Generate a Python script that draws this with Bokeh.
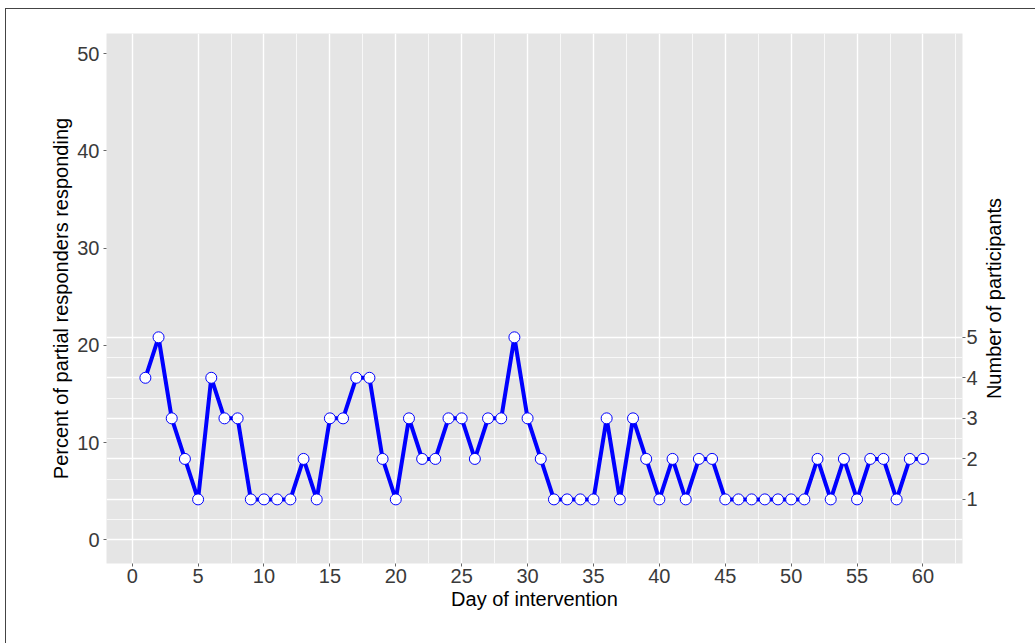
from bokeh.plotting import figure
from bokeh.layouts import row
from bokeh.models import Range1d, LinearAxis, FixedTicker
from bokeh.embed import file_html
from bokeh.resources import INLINE

# ---- data ----
days = list(range(1, 61))
percent = [16.67, 20.83, 12.5, 8.33, 4.17, 16.67, 12.5, 12.5, 4.17, 4.17,
           4.17, 4.17, 8.33, 4.17, 12.5, 12.5, 16.67, 16.67, 8.33, 4.17,
           12.5, 8.33, 8.33, 12.5, 12.5, 8.33, 12.5, 12.5, 20.83, 12.5,
           8.33, 4.17, 4.17, 4.17, 4.17, 12.5, 4.17, 12.5, 8.33, 4.17,
           8.33, 4.17, 8.33, 8.33, 4.17, 4.17, 4.17, 4.17, 4.17, 4.17,
           4.17, 8.33, 4.17, 8.33, 4.17, 8.33, 8.33, 4.17, 8.33, 8.33]
x_ticks = [0, 5, 10, 15, 20, 25, 30, 35, 40, 45, 50, 55, 60]
y_ticks = [0, 10, 20, 30, 40, 50]
participant_ticks = [1, 2, 3, 4, 5]
total_participants = 24  # right axis: count -> percent of 24

FONT = "Liberation Sans"
FS = "20px"
X0, X1 = -1.95, 63.0
Y0, Y1 = -2.42, 52.06

p = figure(width=974, height=635, output_backend="svg", toolbar_location=None,
           x_range=Range1d(X0, X1), y_range=Range1d(Y0, Y1),
           min_border_left=100, min_border_right=17, min_border_top=24, min_border_bottom=81)
p.margin = (8, 0, 0, 5)
p.styles = {"border-left": "1px solid #444444", "border-top": "1px solid #444444"}
p.background_fill_color = "#E5E5E5"
p.border_fill_color = "white"
p.outline_line_color = None

# grid
vgrid_major = x_ticks
vgrid_minor = [7.5, 12.5, 17.5, 22.5, 27.5, 32.5, 37.5, 42.5, 47.5, 52.5, 57.5, 62.5]
hgrid_major = [k * 100 / total_participants for k in [0, 1, 2, 3, 4, 5]]
hgrid_minor = [k * 100 / total_participants for k in [0.5, 1.5, 2.5, 3.5, 4.5]]
p.xgrid.ticker = FixedTicker(ticks=vgrid_major, minor_ticks=vgrid_minor)
p.ygrid.ticker = FixedTicker(ticks=hgrid_major, minor_ticks=hgrid_minor)
for g in (p.xgrid, p.ygrid):
    g.grid_line_color = "white"
    g.grid_line_width = 1.4
    g.minor_grid_line_color = "white"
    g.minor_grid_line_width = 0.9
    g.minor_grid_line_alpha = 0.8

# axes
p.xaxis.ticker = FixedTicker(ticks=x_ticks)
p.yaxis.ticker = FixedTicker(ticks=y_ticks)
p.xaxis.axis_label = "Day of intervention"
p.yaxis.axis_label = "Percent of partial responders responding"

p.extra_y_ranges = {"n": Range1d(Y0 * total_participants / 100, Y1 * total_participants / 100)}
raxis = LinearAxis(y_range_name="n", ticker=FixedTicker(ticks=participant_ticks))
p.add_layout(raxis, "right")

for ax in (p.xaxis[0], p.yaxis[0], raxis):
    ax.axis_line_color = None
    ax.minor_tick_line_color = None
    ax.major_tick_line_color = "#666666"
    ax.major_tick_in = 0
    ax.major_tick_out = 3
    ax.major_label_text_font = FONT
    ax.major_label_text_font_size = FS
    ax.major_label_text_color = "#3A3A3A"
    ax.axis_label_text_font = FONT
    ax.axis_label_text_font_size = FS
    ax.axis_label_text_font_style = "normal"
    ax.axis_label_text_color = "black"

p.yaxis[0].major_label_standoff = 4
p.yaxis[0].axis_label_standoff = 2
p.xaxis[0].major_label_standoff = 2
p.xaxis[0].axis_label_standoff = 2
raxis.major_label_standoff = 1
raxis.major_label_orientation = "horizontal"

# data
p.line(days, percent, line_color="#0000FF", line_width=4)
p.scatter(days, percent, size=11, fill_color="white", line_color="#0000FF", line_width=1)

# narrow companion panel carrying the right-hand title (reads bottom-to-top)
p2 = figure(width=56, height=635, output_backend="svg", toolbar_location=None,
            x_range=Range1d(0, 1), y_range=Range1d(0, 1),
            x_axis_location=None, y_axis_location="left",
            min_border_left=20, min_border_right=0, min_border_top=24, min_border_bottom=81)
p2.margin = (8, 0, 0, 0)
p2.styles = {"border-top": "1px solid #444444"}
p2.background_fill_color = "white"
p2.border_fill_color = "white"
p2.outline_line_color = None
p2.grid.visible = False
ay = p2.yaxis[0]
ay.ticker = FixedTicker(ticks=[])
ay.axis_line_color = None
ay.major_tick_line_color = None
ay.minor_tick_line_color = None
ay.major_tick_out = 0
ay.major_label_standoff = 0
ay.axis_label = "Number of participants"
ay.axis_label_standoff = 0
ay.axis_label_text_font = FONT
ay.axis_label_text_font_size = FS
ay.axis_label_text_font_style = "normal"
ay.axis_label_text_color = "black"

layout = row(p, p2, spacing=0)
open("out.html", "w").write(file_html(layout, INLINE))
